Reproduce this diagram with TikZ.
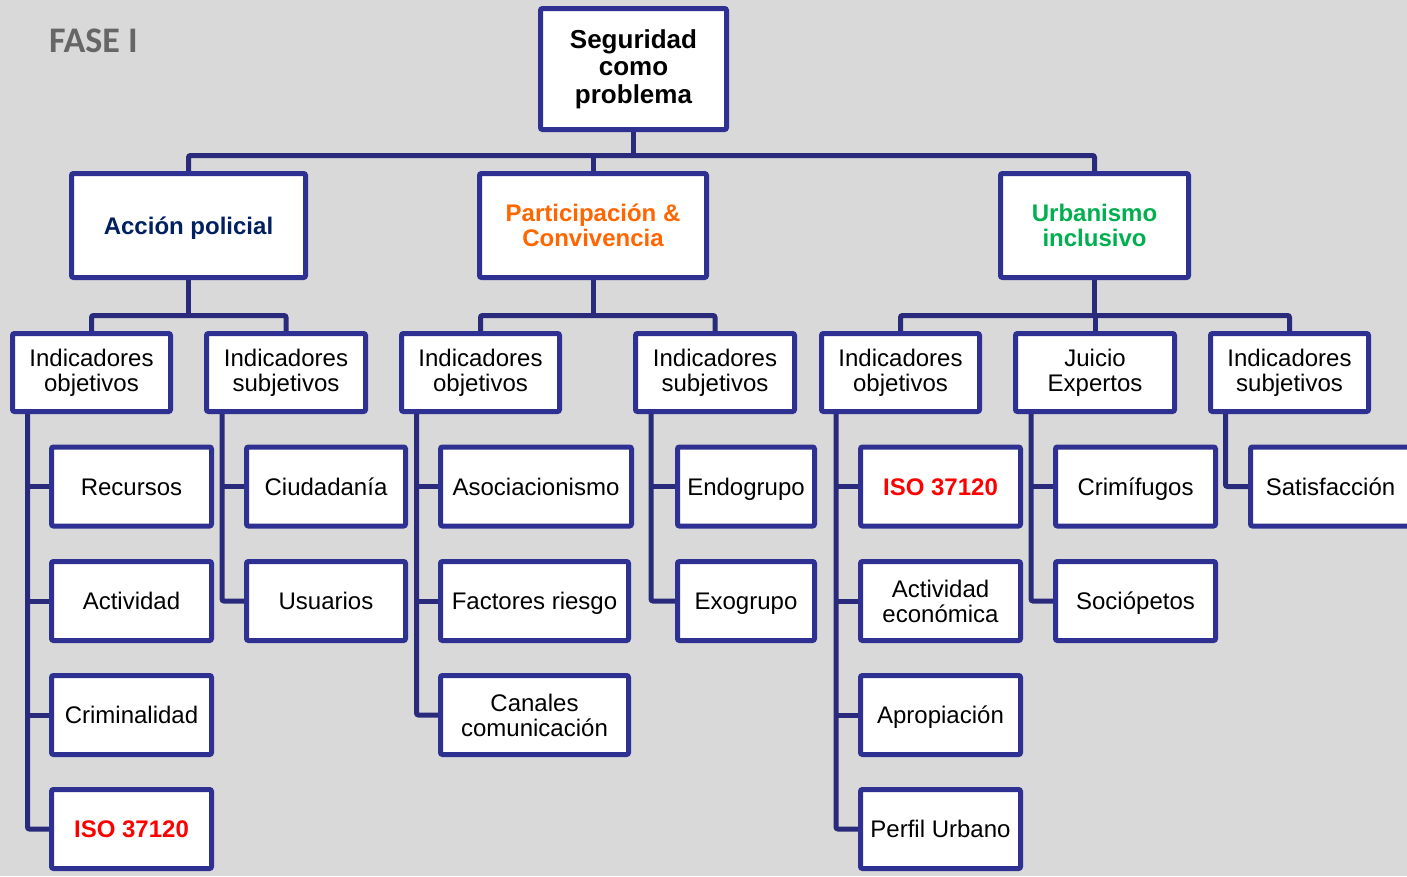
\documentclass[tikz,border=0pt]{standalone}
\usepackage{fontspec}
\setmainfont{Liberation Sans}
\newfontfamily\fasefont{Carlito}
\definecolor{bgc}{HTML}{D9D9D9}
\definecolor{navy}{RGB}{46,49,146}
\definecolor{connc}{RGB}{42,42,124}
\definecolor{orangec}{HTML}{FF6600}
\definecolor{greenc}{HTML}{00B050}
\definecolor{darkblue}{HTML}{002060}
\definecolor{fasegray}{HTML}{666666}
\definecolor{redc}{HTML}{FF0000}
\pgfdeclarelayer{back}
\pgfdeclarelayer{lines}
\pgfsetlayers{back,lines,main}
\begin{document}
\begin{tikzpicture}[x=1pt,y=-1pt,
  box/.style={draw=navy, line width=5pt, fill=white, rounded corners=2pt,
    inner sep=0pt, outer sep=0pt, align=center,
    font=\fontsize{24}{25}\selectfont, text=black},
  oneline/.style={text height=17.2pt, text depth=0pt},
  rootbox/.style={box, minimum width=186pt, minimum height=121pt,
    font=\fontsize{26}{27.5}\selectfont\bfseries},
  lonebox/.style={box, minimum height=104pt, font=\fontsize{24}{25}\selectfont\bfseries},
  ltwobox/.style={box, minimum height=78pt},
  lthreebox/.style={box, minimum height=79pt, minimum width=160pt},
  isotext/.style={text=redc, font=\fontsize{24}{25}\selectfont\bfseries},
  conn/.style={draw=connc, line width=5pt, rounded corners=2pt}]
\useasboundingbox (0,0) rectangle (1407,876);
\begin{pgfonlayer}{back}
  \fill[bgc] (0,0) rectangle (1407,876);
\end{pgfonlayer}

\node[anchor=base west, text=fasegray, font=\fontsize{36}{36}\fasefont\bfseries] (fase) at (45.5,52) {FASE I};

% root
\node[rootbox] (root) at (633.5,69) {Seguridad\\como\\problema};

% level 1
\node[lonebox, oneline, minimum width=234pt, text=darkblue] (acc) at (188.5,225.5) {Acción policial};
\node[lonebox, minimum width=227pt, text=orangec] (part) at (593,225.5) {Participación \&\\Convivencia};
\node[lonebox, minimum width=188pt, text=greenc] (urb) at (1094.5,225.5) {Urbanismo\\inclusivo};

% level 2
\node[ltwobox, minimum width=158pt] (aobj) at (91.5,372.5) {Indicadores\\objetivos};
\node[ltwobox, minimum width=159pt] (asubj) at (286,372.5) {Indicadores\\subjetivos};
\node[ltwobox, minimum width=158pt] (pobj) at (480.5,372.5) {Indicadores\\objetivos};
\node[ltwobox, minimum width=159pt] (psubj) at (715,372.5) {Indicadores\\subjetivos};
\node[ltwobox, minimum width=158pt] (uobj) at (900.5,372.5) {Indicadores\\objetivos};
\node[ltwobox, minimum width=159pt] (juicio) at (1095,372.5) {Juicio\\Expertos};
\node[ltwobox, minimum width=158pt] (usubj) at (1289.5,372.5) {Indicadores\\subjetivos};

% level 3
\node[lthreebox, oneline] (recursos) at (131.5,486.5) {Recursos};
\node[lthreebox, oneline] (actividad) at (131.5,601) {Actividad};
\node[lthreebox, oneline] (criminalidad) at (131.5,715) {Criminalidad};
\node[lthreebox, oneline, isotext] (isoa) at (131.5,829) {ISO 37120};

\node[lthreebox, oneline, minimum width=159pt] (ciudadania) at (326,486.5) {Ciudadanía};
\node[lthreebox, oneline, minimum width=159pt] (usuarios) at (326,601) {Usuarios};

\node[lthreebox, oneline, minimum width=191pt] (asoc) at (536,486.5) {Asociacionismo};
\node[lthreebox, oneline, minimum width=188pt] (factores) at (534.5,601) {Factores riesgo};
\node[lthreebox, minimum width=188pt] (canales) at (534.5,715) {Canales\\comunicación};

\node[lthreebox, oneline, minimum width=137pt] (endo) at (746,486.5) {Endogrupo};
\node[lthreebox, oneline, minimum width=137pt] (exo) at (746,601) {Exogrupo};

\node[lthreebox, oneline, isotext] (isob) at (940.5,486.5) {ISO 37120};
\node[lthreebox] (actecon) at (940.5,601) {Actividad\\económica};
\node[lthreebox, oneline] (apropiacion) at (940.5,715) {Apropiación};
\node[lthreebox, oneline] (perfil) at (940.5,829) {Perfil Urbano};

\node[lthreebox, oneline] (crimifugos) at (1135.5,486.5) {Crimífugos};
\node[lthreebox, oneline] (sociopetos) at (1135.5,601) {Sociópetos};

\node[lthreebox, oneline] (satisf) at (1330.5,486.5) {Satisfacción};

% helper coordinates
\coordinate (busone) at (0,155.5);
\coordinate (bustwo) at (0,315.5);
\coordinate (ta) at (27.5,0);
\coordinate (tb) at (222,0);
\coordinate (tc) at (416.5,0);
\coordinate (td) at (651,0);
\coordinate (te) at (836,0);
\coordinate (tf) at (1031,0);
\coordinate (tg) at (1225.5,0);

\begin{pgfonlayer}{lines}
  % top bus
  \draw[conn] (root.south) -- (root.south |- busone);
  \draw[conn] (acc.north) |- (busone -| urb.north) -- (urb.north);
  \draw[conn] (part.north) -- (part.north |- busone);
  % level 2 buses
  \draw[conn] (acc.south) -- (acc.south |- bustwo);
  \draw[conn] (aobj.north) |- (bustwo -| asubj.north) -- (asubj.north);
  \draw[conn] (part.south) -- (part.south |- bustwo);
  \draw[conn] (pobj.north) |- (bustwo -| psubj.north) -- (psubj.north);
  \draw[conn] (urb.south) -- (urb.south |- bustwo);
  \draw[conn] (uobj.north) |- (bustwo -| usubj.north) -- (usubj.north);
  \draw[conn] (juicio.north) -- (juicio.north |- bustwo);
  % trunks
  \draw[conn] (aobj.south -| ta) |- (isoa.west);
  \draw[conn] (recursos.west -| ta) -- (recursos.west);
  \draw[conn] (actividad.west -| ta) -- (actividad.west);
  \draw[conn] (criminalidad.west -| ta) -- (criminalidad.west);

  \draw[conn] (asubj.south -| tb) |- (usuarios.west);
  \draw[conn] (ciudadania.west -| tb) -- (ciudadania.west);

  \draw[conn] (pobj.south -| tc) |- (canales.west);
  \draw[conn] (asoc.west -| tc) -- (asoc.west);
  \draw[conn] (factores.west -| tc) -- (factores.west);

  \draw[conn] (psubj.south -| td) |- (exo.west);
  \draw[conn] (endo.west -| td) -- (endo.west);

  \draw[conn] (uobj.south -| te) |- (perfil.west);
  \draw[conn] (isob.west -| te) -- (isob.west);
  \draw[conn] (actecon.west -| te) -- (actecon.west);
  \draw[conn] (apropiacion.west -| te) -- (apropiacion.west);

  \draw[conn] (juicio.south -| tf) |- (sociopetos.west);
  \draw[conn] (crimifugos.west -| tf) -- (crimifugos.west);

  \draw[conn] (usubj.south -| tg) |- (satisf.west);
\end{pgfonlayer}
\end{tikzpicture}
\end{document}
